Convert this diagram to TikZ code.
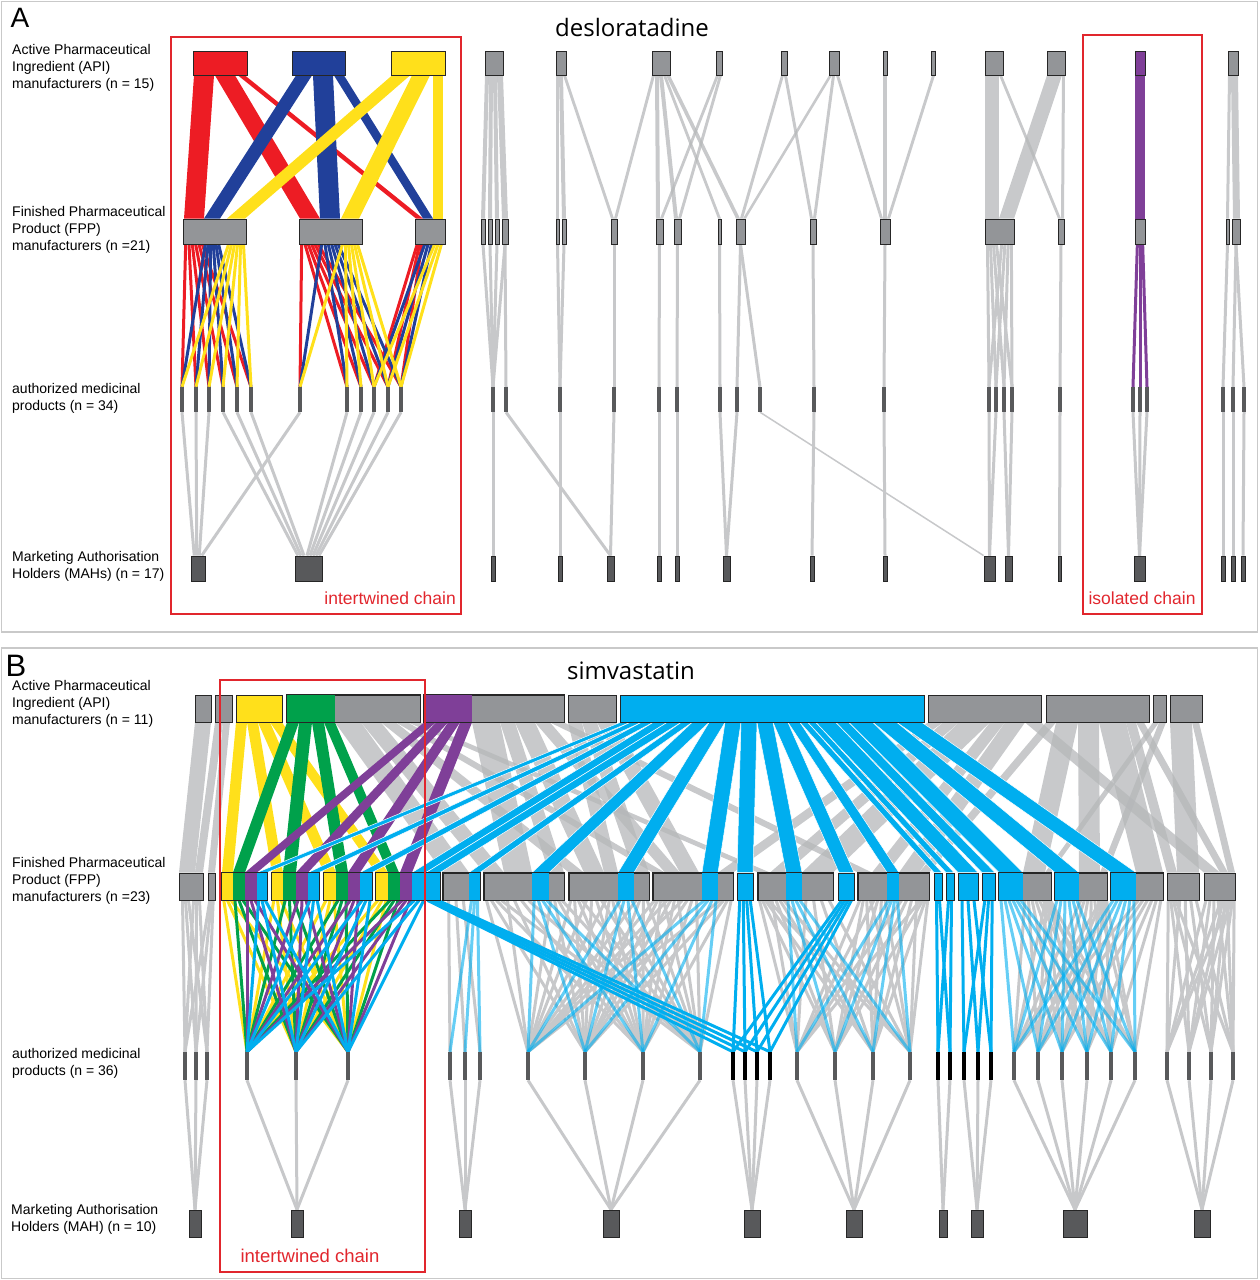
\documentclass[tikz,border=0pt]{standalone}
\usepackage{fontspec}
\setmainfont{Liberation Sans}
\newfontfamily\titlefont{Open Sans}
\usetikzlibrary{backgrounds}
\definecolor{RedA}{HTML}{ED1C24}
\definecolor{BlueA}{HTML}{21409A}
\definecolor{YellowA}{HTML}{FFE01B}
\definecolor{PurpleA}{HTML}{7F3F98}
\definecolor{GreenB}{HTML}{00A14B}
\definecolor{CyanB}{HTML}{00AEEF}
\definecolor{BoxGrey}{HTML}{939598}
\definecolor{BarGrey}{HTML}{58595B}
\definecolor{LinkGrey}{HTML}{C7C8CA}
\definecolor{BandGrey}{HTML}{B5B7B9}
\definecolor{FrameRed}{HTML}{E1262D}
\definecolor{PanelLine}{HTML}{C9C9C9}
\tikzset{box/.style={draw=black!85,line width=.9pt,fill=BoxGrey,inner sep=0pt,minimum height=24pt},
 bar/.style={fill=BarGrey,inner sep=0pt,minimum width=4.5pt,minimum height=25pt},
 mah/.style={draw=black!85,line width=.9pt,fill=BarGrey,inner sep=0pt,minimum height=25pt},
 lbl/.style={font=\fontsize{14}{17}\selectfont,align=left,anchor=west,inner sep=0pt},
 chainlbl/.style={text=FrameRed,inner sep=0pt},
 gl/.style={draw=LinkGrey,line width=3pt},
 cl/.style={draw=CyanB,line width=3pt,draw opacity=.6},
 tl/.style={line width=3pt},
 gband/.style={fill=BandGrey,fill opacity=.75},
 chain/.style={draw=FrameRed}}
\newcommand\band[6]{\fill[#6] (#2,0|-#1.south) -- (#2+#5,0|-#1.south)
 -- (#4+#5,0|-#3.north) -- (#4,0|-#3.north) -- cycle;}
\newcommand\fan[7]{\foreach \kk in {#5,...,#6}
 \draw[#7] ({#2+(#3-#2)*(\kk-#5+0.5)/(#6-#5+1)},0|-#1.south) -- (#4\kk.north);}
\begin{document}
\begin{tikzpicture}[x=1pt,y=-1pt]
\useasboundingbox (0,0) rectangle (1259,1280);
% panel A
\foreach \n/\lo/\hi/\col in {1/193/247/RedA,2/292/345/BlueA,3/391/445/YellowA,4/485/503/BoxGrey,
 5/556/566/BoxGrey,6/652/670/BoxGrey,7/716/722/BoxGrey,8/781/787/BoxGrey,9/829/839/BoxGrey,
 10/883/887/BoxGrey,11/931/935/BoxGrey,12/985/1003/BoxGrey,13/1047/1065/BoxGrey,
 14/1135/1145/PurpleA,15/1228/1238/BoxGrey}
 \node[box,fill=\col,minimum width=\hi-\lo] (aa\n) at ({(\lo+\hi)/2},63) {};
\foreach \n/\lo/\hi in {1/183/246,2/299/362,3/415/445,4/481/485,5/488/492,6/495/499,7/502/508,
 8/556/559,9/562/566,10/611/617,11/656/663,12/674/681,13/718/721,14/736/745,15/810/816,
 16/880/890,17/985/1014,18/1058/1064,19/1135/1145,20/1226/1229,21/1232/1240}
 \node[box,minimum width=\hi-\lo,minimum height=25pt] (af\n) at ({(\lo+\hi)/2},231.5) {};
\foreach \x [count=\n] in {182,196,209,223,237,251,300,347,361,374,388,401,493,506,560,614,659,
 677,720,737,760,814,884,989,996,1004,1012,1060,1133,1140,1147,1223,1233,1244}
 \node[bar] (ap\n) at (\x,399.5) {};
\foreach \n/\lo/\hi in {1/191/205,2/295/322,3/491/495,4/558/562,5/607/614,6/657/661,7/675/679,
 8/723/730,9/810/814,10/883/887,11/984/995,12/1005/1012,13/1058/1061,14/1134/1145,
 15/1221/1225,16/1231/1235,17/1241/1245}
 \node[mah,minimum width=\hi-\lo] (am\n) at ({(\lo+\hi)/2},568.5) {};
% panel B
\foreach \n/\lo/\hi/\col in {1/195/211/BoxGrey,2/215/232/BoxGrey,3/236/282/YellowA,4/287/420/BoxGrey,
 5/424/564/BoxGrey,6/568/616/BoxGrey,7/620/924/CyanB,8/928/1041/BoxGrey,9/1046/1149/BoxGrey,
 10/1153/1166/BoxGrey,11/1170/1202/BoxGrey}
 \node[box,fill=\col,minimum width=\hi-\lo,minimum height=27pt] (ba\n) at ({(\lo+\hi)/2},708.5) {};
\foreach \n/\lo/\hi/\col in {1/179/203/BoxGrey,2/208/215/BoxGrey,3/222/267/BoxGrey,4/272/319/BoxGrey,
 5/324/372/BoxGrey,6/376/440/BoxGrey,7/443/480/BoxGrey,8/484/564/BoxGrey,9/569/649/BoxGrey,
 10/653/733/BoxGrey,11/737/753/CyanB,12/758/833/BoxGrey,13/838/854/CyanB,14/858/929/BoxGrey,
 15/934/942/CyanB,16/946/954/CyanB,17/958/978/CyanB,18/982/995/CyanB,19/999/1051/BoxGrey,
 20/1055/1107/BoxGrey,21/1111/1163/BoxGrey,22/1167/1199/BoxGrey,23/1204/1235/BoxGrey}
 \node[box,fill=\col,minimum width=\hi-\lo,minimum height=27pt] (bf\n) at ({(\lo+\hi)/2},886.5) {};
\foreach \x/\col [count=\n] in {185/BarGrey,196/BarGrey,207/BarGrey,247/BarGrey,296/BarGrey,
 348/BarGrey,450/BarGrey,465/BarGrey,480/BarGrey,528/BarGrey,585/BarGrey,643/BarGrey,700/BarGrey,
 733/black,745/black,757/black,770/black,797/BarGrey,835/BarGrey,873/BarGrey,910/BarGrey,
 938/black,950/black,964/black,978/black,991/black,1014/BarGrey,1038/BarGrey,1062/BarGrey,
 1087/BarGrey,1111/BarGrey,1135/BarGrey,1167/BarGrey,1189/BarGrey,1211/BarGrey,1233/BarGrey}
 \node[bar,fill=\col,minimum height=28pt] (bp\n) at (\x,1066) {};
\foreach \n/\lo/\hi in {1/189/201,2/291/303,3/459/471,4/603/619,5/744/760,6/846/862,7/939/947,
 8/971/983,9/1063/1087,10/1194/1210}
 \node[mah,minimum width=\hi-\lo,minimum height=27pt] (bm\n) at ({(\lo+\hi)/2},1223.5) {};
\foreach \n/\lo/\hi/\col in {ba4/287/335/GreenB,ba5/424/472/PurpleA,bf3/222/233/YellowA,
 bf3/233/245/GreenB,bf3/245/257/PurpleA,bf3/257/267/CyanB,bf4/272/283/YellowA,bf4/283/296/GreenB,
 bf4/296/308/PurpleA,bf4/308/319/CyanB,bf5/324/336/YellowA,bf5/336/348/GreenB,bf5/348/360/PurpleA,
 bf5/360/372/CyanB,bf6/376/388/YellowA,bf6/388/400/GreenB,bf6/400/412/PurpleA,bf6/412/440/CyanB,
 bf7/469/480/CyanB,bf8/532/549/CyanB,bf9/618/634/CyanB,bf10/702/718/CyanB,bf12/786/802/CyanB,
 bf14/887/899/CyanB,bf19/999/1023/CyanB,bf20/1055/1079/CyanB,bf21/1111/1136/CyanB}
 \fill[\col] (\lo,0|-\n.north) rectangle (\hi,0|-\n.south);
\foreach \n in {ba4,ba5,bf3,bf4,bf5,bf6,bf7,bf8,bf9,bf10,bf12,bf14,bf19,bf20,bf21}
 \draw[line width=.9pt,black!85] (\n.north west) rectangle (\n.south east);
\begin{scope}[on background layer]
\draw[PanelLine,line width=1.5pt] (1.5,1.5) rectangle (1257.5,632);
\draw[PanelLine,line width=1.5pt] (1.5,648) rectangle (1257.5,1278.5);
\foreach \src/\xa/\tgt/\xt/\bw in {aa4/485/af4/481/4,aa4/489/af5/488/4,aa4/493/af6/495/4,
 aa4/497/af7/502/6,aa5/556/af8/556/3,aa5/559/af9/562/4,aa5/563/af10/611/3,aa6/652/af10/614/3,
 aa6/655/af11/656/4,aa6/659/af12/674/4,aa6/663/af13/718/3,aa6/666/af14/736/4,aa7/716/af11/660/3,
 aa7/719/af12/678/3,aa8/781/af14/740/3,aa8/784/af15/810/3,aa9/829/af14/743/3,aa9/832/af15/813/3,
 aa9/836/af16/880/3,aa10/883/af16/883/4,aa11/932/af16/887/3,aa12/985/af17/985/14,
 aa12/999/af18/1058/3,aa13/1047/af17/999/15,aa13/1062/af18/1061/3,aa15/1228/af20/1226/3,
 aa15/1231/af21/1233/7}
 \band{\src}{\xa}{\tgt}{\xt}{\bw}{gband};
\foreach \src/\xa/\tgt/\xt/\bw/\col in {aa1/194/af1/184/20/RedA,aa1/215/af2/300/20/RedA,
 aa1/238/af3/416/7/RedA,aa2/296/af1/204/16/BlueA,aa2/313/af2/320/20/BlueA,aa2/334/af3/423/10/BlueA,
 aa3/392/af1/227/18/YellowA,aa3/412/af2/341/18/YellowA,aa3/433/af3/433/10/YellowA,
 aa14/1135/af19/1135/10/PurpleA}
 \band{\src}{\xa}{\tgt}{\xt}{\bw}{fill=\col};
\foreach \src/\tgt in {af4/ap13,af5/ap13,af6/ap13,af7/ap13,af7/ap14,af8/ap15,af9/ap15,af10/ap16,
 af11/ap17,af12/ap18,af13/ap19,af14/ap20,af14/ap21,af15/ap22,af16/ap23,af18/ap28,af20/ap32,
 af21/ap33,af21/ap34}
 \draw[gl] (\src.south) -- (\tgt.north);
\fan{af17}{986}{998}{ap}{24}{27}{gl}
\fan{af17}{1000}{1013}{ap}{24}{27}{gl}
\fan{af19}{1136}{1144}{ap}{29}{31}{tl,PurpleA}
\foreach \src/\xa/\xb/\first/\last/\col in {af1/184/204/1/6/RedA,af2/300/320/7/12/RedA,
 af3/416/423/10/12/RedA,af1/204/220/1/6/BlueA,af2/320/340/7/12/BlueA,af3/423/433/10/12/BlueA,
 af1/227/245/1/6/YellowA,af2/341/359/7/12/YellowA,af3/433/443/10/12/YellowA}
 \fan{\src}{\xa}{\xb}{ap}{\first}{\last}{tl,\col};
\foreach \p [count=\i] in {1,2,3,7} \draw[gl] (ap\p.south) -- ([xshift={(\i-2.5)*2.5}]am1.north);
\foreach \p [count=\i] in {4,5,6,8,9,10,11,12}
 \draw[gl] (ap\p.south) -- ([xshift={(\i-4.5)*3}]am2.north);
\foreach \p/\m in {13/3,14/5,15/4,16/5,17/6,18/7,19/8,20/8,22/9,23/10,24/11,25/11,26/12,27/12,
 28/13,29/14,30/14,31/14,32/15,33/16,34/17}
 \draw[gl] (ap\p.south) -- (am\m.north);
\draw[gl,line width=1.5pt] (ap21.south) -- (am11.north west);
\foreach \src/\xa/\tgt/\xt/\bw in {ba1/195/bf1/179/16,ba2/215/bf1/195/8,ba2/223/bf2/208/7,
 ba4/335/bf7/443/26,ba4/361/bf8/484/20,ba4/381/bf9/569/15,ba4/396/bf10/653/12,ba4/408/bf12/758/12,
 ba5/472/bf8/504/28,ba5/500/bf8/549/15,ba5/515/bf9/584/20,ba5/535/bf10/665/15,ba5/550/bf14/858/14,
 ba6/568/bf9/604/14,ba6/582/bf9/634/15,ba6/597/bf10/680/19,ba8/928/bf10/718/15,ba8/943/bf12/770/16,
 ba8/959/bf12/802/31,ba8/990/bf14/872/15,ba8/1005/bf14/899/20,ba8/1025/bf23/1204/16,
 ba9/1046/bf14/919/10,ba9/1056/bf19/1023/22,ba9/1078/bf20/1079/21,ba9/1099/bf21/1136/27,
 ba9/1126/bf22/1167/10,ba9/1136/bf23/1220/8,ba10/1153/bf19/1045/6,ba10/1159/bf20/1100/7,
 ba11/1170/bf22/1177/22,ba11/1192/bf23/1228/7}
 \band{\src}{\xa}{\tgt}{\xt}{\bw}{gband};
\foreach \src/\xa/\tgt/\xt/\bw/\col in {ba3/236/bf3/222/11/YellowA,ba3/247/bf4/272/11/YellowA,
 ba3/258/bf5/324/12/YellowA,ba3/270/bf6/376/12/YellowA,ba4/287/bf3/233/12/GreenB,
 ba4/299/bf4/283/13/GreenB,ba4/312/bf5/336/12/GreenB,ba4/324/bf6/388/11/GreenB,
 ba5/424/bf3/245/12/PurpleA,ba5/436/bf4/296/12/PurpleA,ba5/448/bf5/348/12/PurpleA,
 ba5/460/bf6/400/12/PurpleA}
 \band{\src}{\xa}{\tgt}{\xt}{\bw}{fill=\col};
\foreach \xa/\tgt/\xt/\bw in {620/bf3/257/10,630/bf4/308/11,641/bf5/360/12,653/bf6/412/14,
 667/bf6/426/14,681/bf7/469/11,692/bf8/532/17,709/bf9/618/16,725/bf10/702/16,741/bf11/737/16,
 757/bf12/786/16,773/bf13/839/15,788/bf14/887/12,800/bf15/934/8,808/bf16/946/8,816/bf17/958/20,
 836/bf18/982/13,849/bf19/999/24,873/bf20/1055/24,897/bf21/1111/25}
 \band{ba7}{\xa}{\tgt}{\xt}{\bw}{fill=CyanB,draw=white,line width=.5pt};
\foreach \src/\xa/\xb/\first/\last in {bf1/181/190/1/3,bf1/192/201/1/3,bf2/209/214/1/3,
 bf7/445/467/7/9,bf8/484/504/10/13,bf8/504/532/10/13,bf8/549/564/10/13,bf9/569/584/10/13,
 bf9/584/604/10/13,bf9/604/618/10/13,bf9/634/649/10/13,bf10/653/665/10/13,bf10/665/680/10/13,
 bf10/680/699/10/13,bf10/718/733/10/13,bf12/758/770/18/21,bf12/770/786/18/21,bf12/802/833/18/21,
 bf14/858/872/18/21,bf14/872/887/18/21,bf14/899/919/18/21,bf14/919/929/18/21,
 bf19/1023/1045/27/32,bf19/1045/1051/27/32,bf20/1079/1100/27/32,bf20/1100/1107/27/32,
 bf21/1136/1163/27/32,bf22/1167/1177/33/36,bf22/1177/1199/33/36,bf23/1204/1220/33/36,
 bf23/1220/1228/33/36,bf23/1228/1235/33/36}
 \fan{\src}{\xa}{\xb}{bp}{\first}{\last}{gl};
\foreach \src/\xa/\xb/\first/\last in {bf7/470/479/7/9,bf8/532/549/10/13,bf9/618/634/10/13,
 bf10/702/718/10/13,bf12/786/802/18/21,bf14/887/899/18/21,bf19/999/1023/27/32,
 bf20/1055/1079/27/32,bf21/1111/1136/27/32}
 \fan{\src}{\xa}{\xb}{bp}{\first}{\last}{cl};
\foreach \src/\xa/\xb/\first/\last/\col in {bf3/222/233/4/6/YellowA,bf4/272/283/4/6/YellowA,
 bf5/324/336/4/6/YellowA,bf6/376/388/4/6/YellowA,bf3/233/245/4/6/GreenB,bf4/283/296/4/6/GreenB,
 bf5/336/348/4/6/GreenB,bf6/388/400/4/6/GreenB,bf3/245/257/4/6/PurpleA,bf4/296/308/4/6/PurpleA,
 bf5/348/360/4/6/PurpleA,bf6/400/412/4/6/PurpleA,bf3/257/267/4/6/CyanB,bf4/308/319/4/6/CyanB,
 bf5/360/372/4/6/CyanB,bf6/412/426/4/6/CyanB,bf6/426/440/14/17/CyanB,bf11/738/752/14/17/CyanB,
 bf13/840/853/14/17/CyanB,bf15/935/941/22/23/CyanB,bf16/947/953/22/23/CyanB,
 bf17/959/977/24/26/CyanB,bf18/983/994/24/26/CyanB}
 \fan{\src}{\xa}{\xb}{bp}{\first}{\last}{tl,\col};
\foreach \p/\m in {1/1,2/1,3/1,4/2,5/2,6/2,7/3,8/3,9/3,10/4,11/4,12/4,13/4,14/5,15/5,16/5,17/5,
 18/6,19/6,20/6,21/6,22/7,23/7,24/8,25/8,26/8,27/9,28/9,29/9,30/9,31/9,32/9,33/10,34/10,35/10,36/10}
 \draw[gl] (bp\p.south) -- (bm\m.north);
\end{scope}
\draw[chain,line width=1.2pt] (171,37) rectangle (461,614);
\draw[chain,line width=1.2pt] (1083,35) rectangle (1202,614);
\draw[chain,line width=2.5pt] (220,680) rectangle (425,1272);
\node[chainlbl,font=\fontsize{17.5}{20}\selectfont,anchor=east] (icA) at (456,598) {intertwined chain};
\node[chainlbl,font=\fontsize{17.5}{20}\selectfont] (isA) at (1142,598) {isolated chain};
\node[chainlbl,font=\fontsize{18.5}{20}\selectfont] (icB) at (310,1256) {intertwined chain};
\node[font=\fontsize{28}{30}\selectfont] (letA) at (20,18) {A};
\node[font=\fontsize{31}{33}\selectfont] (letB) at (16,666) {B};
\node[font=\titlefont\fontsize{24}{28}\selectfont] (drugA) at (632,27) {desloratadine};
\node[font=\titlefont\fontsize{24}{28}\selectfont] (drugB) at (631,671) {simvastatin};
\node[lbl] (rowA1) at (12,68) {Active Pharmaceutical\\Ingredient (API)\\manufacturers (n = 15)};
\node[lbl] (rowA2) at (12,230) {Finished Pharmaceutical\\Product (FPP)\\manufacturers (n =21)};
\node[lbl] (rowA3) at (12,398.5) {authorized medicinal\\products (n = 34)};
\node[lbl] (rowA4) at (12,566.5) {Marketing Authorisation\\Holders (MAHs) (n = 17)};
\node[lbl] (rowB1) at (12,704) {Active Pharmaceutical\\Ingredient (API)\\manufacturers (n = 11)};
\node[lbl] (rowB2) at (12,881) {Finished Pharmaceutical\\Product (FPP)\\manufacturers (n =23)};
\node[lbl] (rowB3) at (12,1063) {authorized medicinal\\products (n = 36)};
\node[lbl] (rowB4) at (11,1219.5) {Marketing Authorisation\\Holders (MAH) (n = 10)};
\end{tikzpicture}
\end{document}
